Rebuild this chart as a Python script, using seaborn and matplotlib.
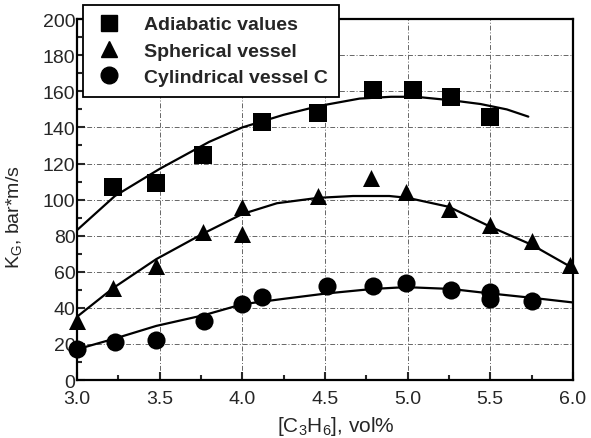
import matplotlib
matplotlib.use("Agg")
import matplotlib.pyplot as plt
from matplotlib.ticker import MultipleLocator, FormatStrFormatter
from matplotlib.lines import Line2D
import seaborn as sns
import pandas as pd

# Measured K_G values, bar*m/s, vs propylene concentration (vol%)
adiabatic_x = [3.22, 3.48, 3.76, 4.12, 4.46, 4.79, 5.03, 5.26, 5.50]
adiabatic_y = [107, 109, 125, 143, 148, 161, 161, 157, 146]

spherical_x = [3.00, 3.22, 3.48, 3.76, 4.00, 4.00, 4.46, 4.78, 4.99, 5.25, 5.50, 5.75, 5.98]
spherical_y = [33, 51, 63, 82, 96, 81, 102, 112, 104, 95, 86, 77, 64]

cylindrical_x = [3.00, 3.23, 3.48, 3.77, 4.00, 4.12, 4.51, 4.79, 4.99, 5.26, 5.50, 5.50, 5.75]
cylindrical_y = [17, 21, 22, 33, 42, 46, 52, 52, 54, 50, 49, 45, 44]

# Smoothed trend curves
adiabatic_fit_x = [3.00, 3.23, 3.50, 3.80, 4.00, 4.25, 4.47, 4.71, 4.90, 5.05, 5.27, 5.44, 5.60, 5.73]
adiabatic_fit_y = [83, 102, 117, 132, 140, 147, 152, 156, 157, 157, 155, 153, 150, 146]

spherical_fit_x = [3.00, 3.22, 3.48, 3.76, 4.00, 4.21, 4.46, 4.67, 4.89, 5.00, 5.25, 5.50, 5.75, 6.00]
spherical_fit_y = [35, 51, 67, 81, 92, 98, 101, 102, 102, 101, 96, 85, 75, 62]

cylindrical_fit_x = [3.00, 3.23, 3.48, 3.77, 4.00, 4.25, 4.51, 4.79, 4.99, 5.26, 5.50, 5.76, 6.00]
cylindrical_fit_y = [17, 23, 30, 36, 42, 45, 48, 50.5, 51.5, 50.5, 48, 45.5, 43]

labels = ["Adiabatic values", "Spherical vessel", "Cylindrical vessel C"]
markers = ["s", "^", "o"]

points = pd.concat([
    pd.DataFrame({"x": adiabatic_x, "y": adiabatic_y, "series": labels[0]}),
    pd.DataFrame({"x": spherical_x, "y": spherical_y, "series": labels[1]}),
    pd.DataFrame({"x": cylindrical_x, "y": cylindrical_y, "series": labels[2]}),
])
curves = [
    (adiabatic_fit_x, adiabatic_fit_y),
    (spherical_fit_x, spherical_fit_y),
    (cylindrical_fit_x, cylindrical_fit_y),
]

sns.set_style("ticks")
plt.rcParams["font.family"] = ["Liberation Sans", "DejaVu Sans"]
plt.rcParams["mathtext.fontset"] = "custom"
plt.rcParams["mathtext.rm"] = "Liberation Sans"
plt.rcParams["mathtext.it"] = "Liberation Sans"

fig = plt.figure(figsize=(5.91, 4.39), dpi=100)
ax = fig.add_axes([0.130, 0.132, 0.8395, 0.822])

for (cx, cy) in curves:
    sns.lineplot(x=cx, y=cy, ax=ax, color="black", linewidth=1.6,
                 sort=False, legend=False, zorder=3)

sizes = {labels[0]: 150, labels[1]: 150, labels[2]: 170}
for lab, mk in zip(labels, markers):
    sub = points[points["series"] == lab]
    sns.scatterplot(data=sub, x="x", y="y", ax=ax, marker=mk, color="black",
                    s=sizes[lab], edgecolor="black", linewidth=0, legend=False,
                    zorder=4, clip_on=False)

ax.set_xlim(3.0, 6.0)
ax.set_ylim(0, 200)
ax.xaxis.set_major_locator(MultipleLocator(0.5))
ax.xaxis.set_minor_locator(MultipleLocator(0.25))
ax.yaxis.set_major_locator(MultipleLocator(20))
ax.yaxis.set_minor_locator(MultipleLocator(10))
ax.xaxis.set_major_formatter(FormatStrFormatter("%.1f"))

ax.grid(True, which="major", color="#666666", linestyle=(0, (5, 2, 1, 2)),
        linewidth=0.7)
ax.set_axisbelow(True)

ax.tick_params(which="both", direction="in", top=False, right=False,
               width=1.5)
ax.tick_params(axis="x", labelsize=14, pad=7)
ax.tick_params(axis="y", labelsize=14, pad=1)
ax.tick_params(which="major", length=6)
ax.tick_params(which="minor", length=3.5)
for sp in ax.spines.values():
    sp.set_linewidth(1.6)
    sp.set_color("black")

ax.set_xlabel("[C$_3$H$_6$], vol%", fontsize=15)
ax.set_ylabel("K$_G$, bar*m/s", fontsize=14)
ax.xaxis.set_label_coords(0.522, -0.095)
ax.yaxis.set_label_coords(-0.107, 0.455)

handles = [Line2D([], [], marker=m, color="black", linestyle="none",
                  markersize=ms) for m, ms in zip(markers, [11, 11, 12])]
leg = ax.legend(handles, labels, loc="upper left",
                bbox_to_anchor=(0.012, 1.039), frameon=True, fancybox=False,
                edgecolor="black", framealpha=1, borderpad=0.55,
                handletextpad=1.0, labelspacing=0.45, handlelength=1.6,
                borderaxespad=0,
                prop={"weight": "bold", "size": 14})
leg.get_frame().set_linewidth(1.3)
leg.set_zorder(10)

fig.savefig("out.png", dpi=100)
